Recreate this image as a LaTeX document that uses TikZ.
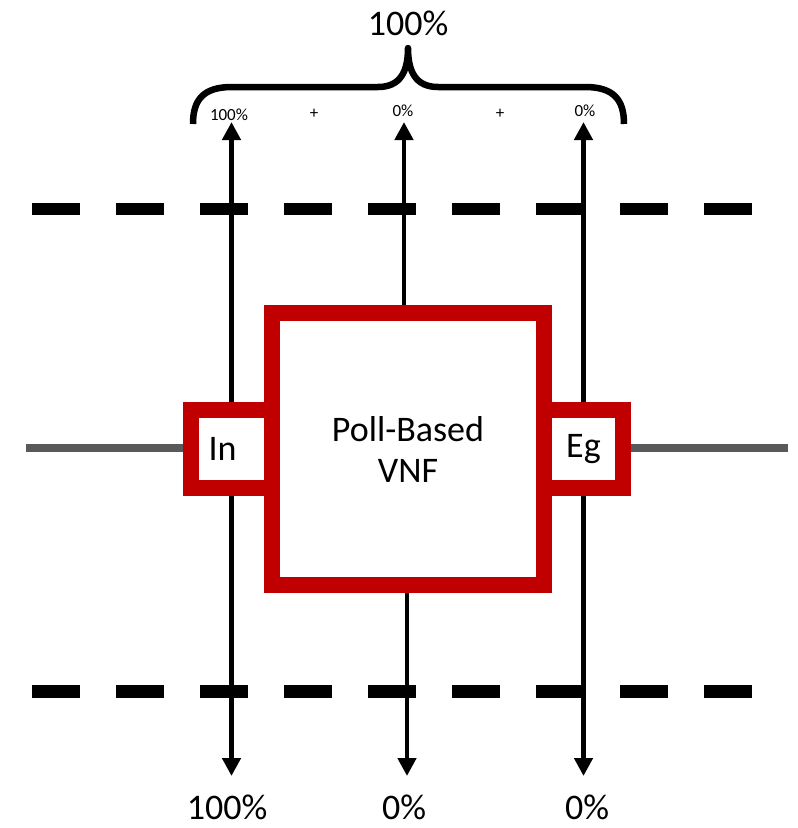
\documentclass[tikz,border=0pt]{standalone}
\usepackage{fontspec}
\setmainfont{Carlito}
\usetikzlibrary{arrows.meta}
\definecolor{vnfred}{RGB}{192,0,0}
\definecolor{wiregray}{RGB}{89,89,89}

\begin{document}
\begin{tikzpicture}[x=1pt,y=-1pt,
  redbox/.style={draw=vnfred,line width=16pt,fill=white,inner sep=0pt,font=\fontsize{36}{45}\selectfont},
  flow/.style={line width=4.5pt,-{Triangle[length=18pt,width=18pt]}},
  border/.style={line width=12.5pt,dash pattern=on 48pt off 36pt},
  wire/.style={draw=wiregray,line width=8pt},
  brace/.style={line width=6.5pt,line join=round},
  big/.style={font=\fontsize{36}{43.2}\selectfont,inner sep=0pt},
  small/.style={font=\fontsize{17}{20}\selectfont,inner sep=0pt}]
\path[use as bounding box] (0,0) rectangle (798,828);
% domain borders
\coordinate (upL) at (32,209);
\coordinate (upR) at (752,209);
\coordinate (lowL) at (32,691.5);
\coordinate (lowR) at (752,691.5);
\draw[border] (upL) -- (upR);
\draw[border] (lowL) -- (lowR);
% ports and function
\node[redbox,minimum width=81pt,minimum height=78pt,label={[big,xshift=-9pt]center:In}] (in) at (231.5,449) {};
\node[redbox,minimum width=79pt,minimum height=78pt] (eg) at (583.5,449) {Eg};
\node[redbox,minimum width=272pt,minimum height=272pt,align=center,text depth=0pt] (vnf) at (408,449) {\raisebox{-4pt}{Poll-Based}\\VNF};
% links
\coordinate (linkL) at (26,448);
\coordinate (linkR) at (788,448);
\draw[wire] (linkL) -- (linkL -| in.west);
\draw[wire] (linkR) -- (linkR -| eg.east);
% flows
\coordinate (topY) at (0,122);
\coordinate (botY) at (0,776);
\draw[flow] (in.north) -- (in.north |- topY);
\draw[flow] ([xshift=-4pt]vnf.north) -- ([xshift=-4pt]vnf.north |- topY);
\draw[flow] (eg.north) -- (eg.north |- topY);
\draw[flow] (in.south) -- (in.south |- botY);
\draw[flow] ([xshift=-1pt]vnf.south) -- ([xshift=-1pt]vnf.south |- botY);
\draw[flow] (eg.south) -- (eg.south |- botY);
% sum brace
\draw[brace] (193,124) .. controls (193,100) and (203,87) .. (232,87) -- (378,87) .. controls (400,87) and (408,72) .. (408,48) .. controls (408,72) and (416,87) .. (438,87) -- (585,87) .. controls (614,87) and (624,100) .. (624,124);
\node[big] (total) at (408,23) {100\%};
\node[small] (shareIn) at (229,115) {100\%};
\node[small] (plusA) at (314,114) {+};
\node[small] (shareVnf) at (403,111) {0\%};
\node[small] (plusB) at (500,114) {+};
\node[small] (shareEg) at (585,111) {0\%};
% outputs
\node[big] (outIn) at (227,807) {100\%};
\node[big] (outVnf) at (404,807) {0\%};
\node[big] (outEg) at (587,807) {0\%};
\end{tikzpicture}
\end{document}
